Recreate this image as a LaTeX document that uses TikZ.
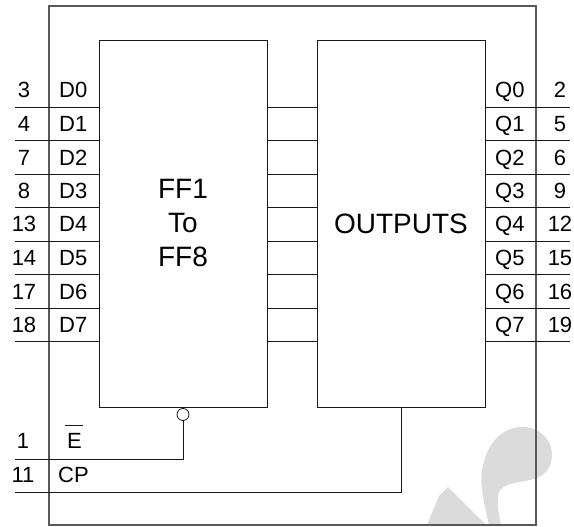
\documentclass[tikz,border=0pt]{standalone}
\usepackage{fontspec}
\setmainfont{Liberation Sans}
\usetikzlibrary{positioning,calc}

\begin{document}
\begin{tikzpicture}[
  x=1pt, y=-1pt,
  every node/.style={align=center, inner sep=0pt},
  blockbox/.style={draw=black!90, line width=0.9pt, fill=white, minimum width=168pt, minimum height=367pt, font=\fontsize{28}{32}\selectfont},
  wire/.style={draw=black!90, line width=0.9pt},
  pinlabel/.style={anchor=base west, font=\fontsize{22}{26}\selectfont},
  pinnum/.style={anchor=base, font=\fontsize{22}{26}\selectfont}
]
\useasboundingbox (0,0) rectangle (574,527);

% --- Watermark
\fill[black!14] (427,525) -- (439,496) -- (448,487) -- (486,525) -- cycle;
\fill[black!14] (489,525) .. controls (483,500) and (479,480) .. (483,466)
  .. controls (488,440) and (505,427) .. (522,427)
  .. controls (540,427) and (552,440) .. (552,455)
  .. controls (552,470) and (542,478) .. (530,480)
  .. controls (515,483) and (498,484) .. (498,497)
  .. controls (497,507) and (499,515) .. (501,525) -- cycle;

% --- Package outline
\node[draw=black!65, line width=1.15pt, minimum width=487pt, minimum height=519pt] (chip) at (292.5,265.5) {};

% --- Blocks
\node[blockbox] (ff) at (183,223.5) {FF1\\[2pt]To\\[2pt]FF8};
\node[blockbox] (outs) at (401,223.5) {OUTPUTS};
\node[draw=black!90, fill=white, line width=0.8pt, circle, minimum size=12pt] (bubble) at (183,414.5) {};

% --- Data rows
\foreach \idx/\ypos/\inpin/\outpin in {0/107/3/2,1/140.5/4/5,2/174/7/6,3/207.5/8/9,4/241/13/12,5/274.5/14/15,6/308/17/16,7/341.5/18/19} {
  \coordinate (in\idx) at (15,\ypos);
  \coordinate (out\idx) at (570,\ypos);
  \draw[wire] (in\idx) -- (in\idx -| ff.west);
  \draw[wire] (ff.east |- in\idx) -- (outs.west |- in\idx);
  \draw[wire] (outs.east |- out\idx) -- (out\idx);
  \node[pinnum] (innum\idx) at (24,\ypos-9) {\inpin};
  \node[pinlabel] (d\idx) at (59,\ypos-9) {D\idx};
  \node[pinlabel] (q\idx) at (495,\ypos-9) {Q\idx};
  \node[pinnum] (outnum\idx) at (560,\ypos-9) {\outpin};
}

% --- Control rows
\coordinate (en) at (15,459);
\coordinate (cp) at (15,492);
\draw[wire] (en) -| (bubble.south);
\draw[wire] (cp) -| (outs.south);
\node[pinnum] (ennum) at (23,448) {1};
\node[pinnum] (cpnum) at (23,482) {11};
\node[pinlabel] (enlabel) at (67,448) {E};
\node[pinlabel] (cplabel) at (58,482) {CP};
\draw[black!90, line width=0.7pt] (65,425) -- (83,425);

\end{tikzpicture}
\end{document}
